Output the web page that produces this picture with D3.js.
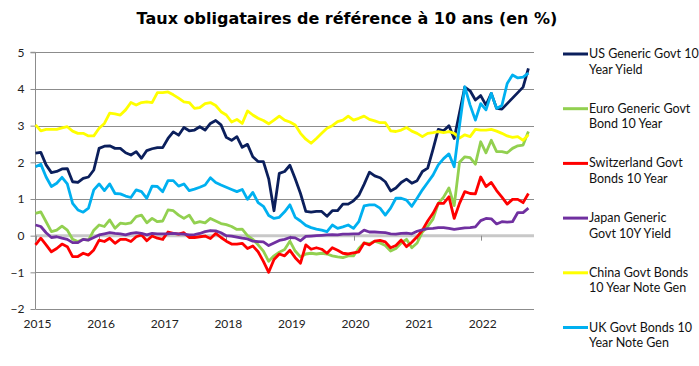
<!DOCTYPE html>
<html>
<head>
<meta charset="utf-8">
<script src="https://cdn.jsdelivr.net/npm/d3@7"></script>
<style>
  body { margin: 0; background: #fff; }
  svg { display: block; font-family: "Lato", "DejaVu Sans", sans-serif; }
</style>
</head>
<body>
<div class="graph"></div>
<script>
// monthly points, Jan 2015 -> Oct 2022
const years = ['2015', '2016', '2017', '2018', '2019', '2020', '2021', '2022'];
const yTicks = [-2, -1, 0, 1, 2, 3, 4, 5];

const us = [2.25,2.27,1.93,1.72,1.75,1.82,1.83,1.47,1.45,1.56,1.6,1.79,2.38,2.44,2.45,2.38,2.38,2.26,2.2,2.29,
  2.11,2.32,2.37,2.4,2.4,2.65,2.83,2.74,2.95,2.86,2.88,2.97,2.88,3.06,3.14,3.02,2.68,2.6,2.7,2.41,
  2.49,2.15,2.02,2.02,1.55,0.68,1.7,1.75,1.92,1.55,1.15,0.66,0.64,0.66,0.66,0.53,0.68,0.68,0.86,0.86,
  0.95,1.1,1.4,1.73,1.63,1.58,1.47,1.22,1.3,1.45,1.54,1.43,1.5,1.75,1.84,2.35,2.9,2.86,3.0,2.65,
  3.35,4.05,3.95,3.7,3.82,3.56,3.88,3.47,3.45,3.6,3.75,3.9,4.05,4.56];
const euro = [0.61,0.65,0.38,0.11,0.15,0.26,0.15,-0.1,-0.16,-0.1,-0.12,0.15,0.29,0.25,0.43,0.2,0.34,0.32,0.35,0.52,
  0.56,0.35,0.47,0.38,0.4,0.7,0.68,0.56,0.47,0.56,0.34,0.38,0.35,0.47,0.4,0.33,0.3,0.25,0.17,0.18,
  0.0,-0.1,-0.25,-0.42,-0.7,-0.55,-0.45,-0.38,-0.15,-0.42,-0.58,-0.5,-0.48,-0.5,-0.48,-0.5,-0.55,-0.58,-0.6,-0.55,
  -0.55,-0.35,-0.2,-0.22,-0.15,-0.2,-0.27,-0.42,-0.35,-0.2,-0.1,-0.33,-0.2,0.1,0.25,0.45,0.88,1.05,1.3,0.82,
  2.0,2.15,2.13,1.95,2.56,2.26,2.6,2.29,2.29,2.26,2.38,2.45,2.47,2.84];
const swiss = [-0.25,-0.07,-0.25,-0.44,-0.35,-0.23,-0.3,-0.57,-0.57,-0.48,-0.53,-0.39,-0.12,-0.16,-0.07,-0.21,-0.1,-0.1,-0.16,-0.03,
  0.02,-0.14,-0.01,-0.07,-0.1,0.1,0.06,0.04,0.08,-0.05,-0.05,-0.03,-0.01,-0.08,0.06,-0.05,-0.15,-0.23,-0.23,-0.21,
  -0.35,-0.28,-0.44,-0.7,-1.0,-0.65,-0.5,-0.55,-0.4,-0.6,-0.75,-0.25,-0.37,-0.33,-0.37,-0.48,-0.33,-0.4,-0.48,-0.5,
  -0.47,-0.44,-0.2,-0.25,-0.15,-0.13,-0.17,-0.33,-0.27,-0.12,-0.3,-0.18,-0.03,0.15,0.4,0.61,0.88,0.88,1.06,0.47,
  0.88,1.2,1.15,1.14,1.6,1.34,1.45,1.23,1.05,0.86,0.99,0.99,0.9,1.15];
const japan = [0.29,0.25,0.08,-0.05,-0.03,-0.07,-0.1,-0.19,-0.19,-0.1,-0.12,-0.05,0.02,0.05,0.08,0.06,0.05,0.02,0.06,0.08,
  0.06,0.02,0.06,0.05,0.05,0.05,0.06,0.05,0.04,0.02,0.03,0.06,0.11,0.14,0.13,0.08,0.0,-0.01,-0.04,-0.07,
  -0.09,-0.15,-0.16,-0.17,-0.27,-0.2,-0.13,-0.1,-0.05,-0.06,-0.14,-0.02,-0.01,0.0,0.01,0.02,0.03,0.02,0.04,0.04,
  0.05,0.05,0.15,0.1,0.1,0.09,0.08,0.05,0.04,0.06,0.07,0.05,0.12,0.16,0.19,0.2,0.22,0.22,0.2,0.17,
  0.19,0.21,0.22,0.24,0.41,0.47,0.46,0.32,0.38,0.37,0.38,0.63,0.63,0.75];
const china = [3.02,2.86,2.9,2.9,2.9,2.94,2.97,2.85,2.79,2.79,2.72,2.72,2.93,3.06,3.34,3.32,3.29,3.43,3.63,3.56,
  3.63,3.65,3.63,3.9,3.9,3.92,3.84,3.75,3.65,3.63,3.47,3.49,3.6,3.63,3.55,3.38,3.29,3.1,3.17,3.06,
  3.4,3.29,3.2,3.14,3.05,3.15,3.26,3.15,3.1,3.02,2.79,2.63,2.52,2.65,2.79,2.93,3.0,3.11,3.15,3.26,
  3.15,3.2,3.26,3.17,3.13,3.08,3.08,2.86,2.84,2.88,2.95,2.85,2.79,2.7,2.79,2.81,2.84,2.81,2.84,2.79,
  2.66,2.75,2.7,2.9,2.88,2.88,2.9,2.85,2.79,2.72,2.68,2.7,2.6,2.75];
const uk = [1.88,1.95,1.6,1.34,1.43,1.59,1.41,0.88,0.7,0.64,0.75,1.25,1.41,1.23,1.41,1.15,1.14,1.08,1.04,1.25,
  1.2,1.02,1.35,1.34,1.2,1.5,1.5,1.35,1.41,1.23,1.27,1.32,1.38,1.58,1.45,1.38,1.32,1.26,1.2,1.26,
  0.99,1.18,0.9,0.8,0.55,0.47,0.5,0.65,0.84,0.5,0.4,0.28,0.22,0.18,0.15,0.11,0.29,0.2,0.24,0.29,
  0.2,0.38,0.81,0.84,0.84,0.75,0.56,0.75,1.02,1.02,0.97,0.8,1.02,1.25,1.45,1.65,1.93,2.1,2.23,1.88,
  3.0,4.06,3.56,3.15,3.6,3.43,3.88,3.47,3.55,4.15,4.38,4.3,4.32,4.43];

const seriesNames = [
  ['US Generic Govt 10', 'Year Yield'],
  ['Euro Generic Govt', 'Bond 10 Year'],
  ['Switzerland Govt', 'Bonds 10 Year'],
  ['Japan Generic', 'Govt 10Y Yield'],
  ['China Govt Bonds', '10 Year Note Gen'],
  ['UK Govt Bonds 10', 'Year Note Gen']
];
const seriesColors = ['#0b1f5c', '#92d050', '#ff0000', '#7030a0', '#ffff00', '#00b0f0'];
const seriesValues = [us, euro, swiss, japan, china, uk];

const w = 699;
const h = 366;
const xScale = d3.scaleLinear().domain([0, 94]).range([35.5, 533.7]);
const yScale = d3.scaleLinear().domain([-2, 5]).range([309, 52.3]);

const svg = d3.select('.graph')
  .append('svg')
  .attr('width', w)
  .attr('height', h);

svg.append('text')
  .attr('x', 347)
  .attr('y', 24)
  .attr('text-anchor', 'middle')
  .style('font-family', '"DejaVu Sans", sans-serif')
  .style('font-size', '16px')
  .style('font-weight', 'bold')
  .style('fill', '#000')
  .text('Taux obligataires de référence à 10 ans (en %)');

// horizontal grid
svg.append('g')
  .selectAll('line')
  .data(yTicks.filter((d) => d !== 0))
  .join('line')
  .attr('x1', 35.5)
  .attr('x2', 534)
  .attr('y1', (d) => Math.round(yScale(d)) + 0.5)
  .attr('y2', (d) => Math.round(yScale(d)) + 0.5)
  .attr('stroke', '#8c8c8c')
  .attr('stroke-width', 1);

// zero line, with the year ticks
svg.append('line')
  .attr('x1', 35.5)
  .attr('x2', 534)
  .attr('y1', yScale(0))
  .attr('y2', yScale(0))
  .attr('stroke', '#c8c8c8')
  .attr('stroke-width', 3);

svg.append('g')
  .attr('class', 'x-ticks')
  .selectAll('line')
  .data(years.map((d, i) => i * 12))
  .join('line')
  .attr('x1', (d) => Math.round(xScale(d)) + 0.5)
  .attr('x2', (d) => Math.round(xScale(d)) + 0.5)
  .attr('y1', yScale(0))
  .attr('y2', yScale(0) + 5)
  .attr('stroke', '#8c8c8c');

// y axis
svg.append('g')
  .attr('class', 'y-axis')
  .attr('transform', 'translate(35.5, 0)')
  .call(d3.axisLeft(yScale).tickValues(yTicks).tickSize(5).tickPadding(6).tickFormat(d3.format('d')))
  .call((g) => g.select('.domain').attr('stroke', '#8c8c8c').attr('d', `M-5,${yScale(5)}H0V${yScale(-2)}`))
  .call((g) => g.selectAll('.tick line').attr('stroke', '#8c8c8c'))
  .call((g) => g.selectAll('.tick text').style('font-size', '12px').style('fill', '#222').style('font-family', 'Lato, sans-serif'));

// year labels
svg.append('g')
  .selectAll('text')
  .data(years)
  .join('text')
  .attr('x', (d, i) => xScale(i * 12) + 2)
  .attr('y', 328)
  .attr('text-anchor', 'middle')
  .style('font-size', '12px')
  .style('fill', '#222')
  .text((d) => d);

const line = d3.line()
  .x((d, i) => xScale(i))
  .y((d) => yScale(d));

svg.append('g')
  .selectAll('path')
  .data(seriesValues)
  .join('path')
  .attr('d', line)
  .attr('fill', 'none')
  .attr('stroke', (d, i) => seriesColors[i])
  .attr('stroke-width', 2.8)
  .attr('stroke-linejoin', 'round');

// legend
const legend = svg.append('g')
  .selectAll('g')
  .data(seriesNames)
  .join('g')
  .attr('transform', (d, i) => `translate(563, ${54 + i * 54.7})`);

legend.append('line')
  .attr('x1', 0)
  .attr('x2', 25)
  .attr('stroke', (d, i) => seriesColors[i])
  .attr('stroke-width', 3);

legend.append('text')
  .attr('x', 26)
  .attr('y', 4)
  .style('font-size', '12.5px')
  .style('fill', '#111')
  .selectAll('tspan')
  .data((d) => d)
  .join('tspan')
  .attr('x', 26)
  .attr('dy', (d, i) => i === 0 ? 0 : 15.5)
  .text((d) => d);
</script>
</body>
</html>
